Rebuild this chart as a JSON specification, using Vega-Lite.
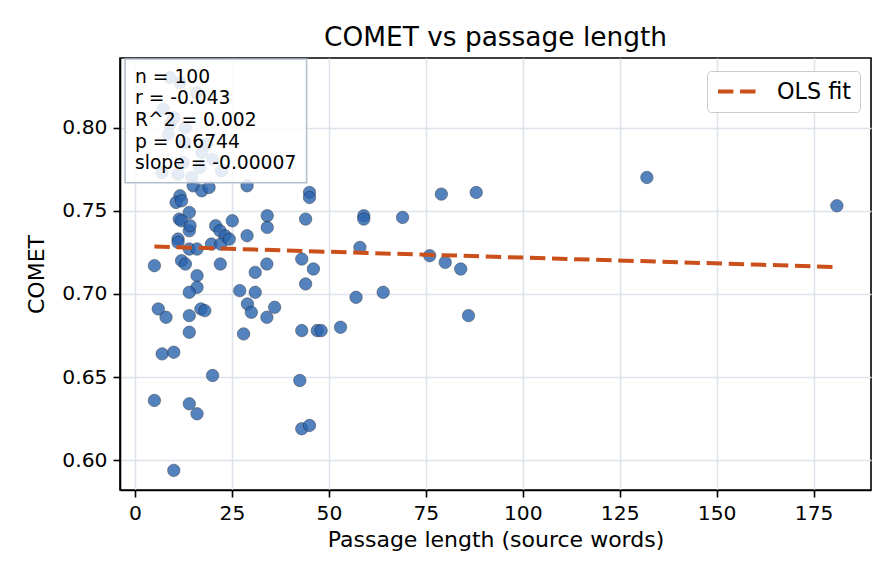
{
  "$schema": "https://vega.github.io/schema/vega-lite/v6.json",
  "width": 751,
  "height": 432,
  "autosize": {"type": "none"},
  "padding": {"left": 120, "top": 58, "right": 25, "bottom": 94},
  "background": "white",
  "title": {"text": "COMET vs passage length", "fontSize": 26.4, "font": "DejaVu Sans", "fontWeight": "normal", "color": "black", "anchor": "middle", "offset": 7},
  "config": {
    "font": "DejaVu Sans",
    "view": {"stroke": "black", "strokeWidth": 1.6},
    "axis": {
      "labelFont": "DejaVu Sans", "labelFontSize": 20.3, "labelColor": "black",
      "titleFont": "DejaVu Sans", "titleFontSize": 22, "titleFontWeight": "normal", "titleColor": "black",
      "domainColor": "black", "domainWidth": 1.6,
      "tickColor": "black", "tickWidth": 1.6, "tickSize": 7, "labelPadding": 6,
      "gridColor": "#dce3eb", "gridWidth": 1.5
    }
  },
  "datasets": {
    "points": [
      {"len": 132, "comet": 0.770}, {"len": 181, "comet": 0.753}, {"len": 79, "comet": 0.760}, {"len": 88, "comet": 0.761},
      {"len": 69, "comet": 0.746}, {"len": 76, "comet": 0.723}, {"len": 80, "comet": 0.719}, {"len": 84, "comet": 0.715},
      {"len": 86, "comet": 0.687}, {"len": 45, "comet": 0.761}, {"len": 45, "comet": 0.758}, {"len": 44, "comet": 0.745},
      {"len": 59, "comet": 0.747}, {"len": 59, "comet": 0.745}, {"len": 58, "comet": 0.728}, {"len": 43, "comet": 0.721},
      {"len": 46, "comet": 0.715}, {"len": 44, "comet": 0.706}, {"len": 57, "comet": 0.698}, {"len": 64, "comet": 0.701},
      {"len": 43, "comet": 0.678}, {"len": 47, "comet": 0.678}, {"len": 48, "comet": 0.678}, {"len": 53, "comet": 0.680},
      {"len": 42.5, "comet": 0.648}, {"len": 43, "comet": 0.619}, {"len": 45, "comet": 0.621}, {"len": 5, "comet": 0.717},
      {"len": 12, "comet": 0.720}, {"len": 13, "comet": 0.718}, {"len": 22, "comet": 0.718}, {"len": 16, "comet": 0.711},
      {"len": 16, "comet": 0.704}, {"len": 14, "comet": 0.701}, {"len": 31, "comet": 0.713}, {"len": 34, "comet": 0.718},
      {"len": 27, "comet": 0.702}, {"len": 31, "comet": 0.701}, {"len": 6, "comet": 0.691}, {"len": 8, "comet": 0.686},
      {"len": 14, "comet": 0.687}, {"len": 17, "comet": 0.691}, {"len": 18, "comet": 0.690}, {"len": 29, "comet": 0.694},
      {"len": 30, "comet": 0.689}, {"len": 36, "comet": 0.692}, {"len": 34, "comet": 0.686}, {"len": 14, "comet": 0.677},
      {"len": 28, "comet": 0.676}, {"len": 7, "comet": 0.664}, {"len": 10, "comet": 0.665}, {"len": 20, "comet": 0.651},
      {"len": 5, "comet": 0.636}, {"len": 14, "comet": 0.634}, {"len": 16, "comet": 0.628}, {"len": 10, "comet": 0.594},
      {"len": 11.6, "comet": 0.759}, {"len": 10.6, "comet": 0.755}, {"len": 14, "comet": 0.749}, {"len": 11.4, "comet": 0.745},
      {"len": 12, "comet": 0.744}, {"len": 14, "comet": 0.738}, {"len": 14.2, "comet": 0.741}, {"len": 11.1, "comet": 0.733},
      {"len": 11.1, "comet": 0.731}, {"len": 14, "comet": 0.727}, {"len": 16, "comet": 0.727}, {"len": 20.8, "comet": 0.741},
      {"len": 21.9, "comet": 0.738}, {"len": 23.2, "comet": 0.735}, {"len": 19.7, "comet": 0.730}, {"len": 22.1, "comet": 0.730},
      {"len": 24.3, "comet": 0.733}, {"len": 25.1, "comet": 0.744}, {"len": 28.9, "comet": 0.735}, {"len": 34.1, "comet": 0.747},
      {"len": 34.1, "comet": 0.740}, {"len": 28.9, "comet": 0.765}, {"len": 15, "comet": 0.765}, {"len": 17.2, "comet": 0.762},
      {"len": 19.1, "comet": 0.764}, {"len": 12, "comet": 0.756}, {"len": 9, "comet": 0.830}, {"len": 11.6, "comet": 0.827},
      {"len": 15.9, "comet": 0.821}, {"len": 7.3, "comet": 0.811}, {"len": 9, "comet": 0.802}, {"len": 8.6, "comet": 0.796},
      {"len": 12.9, "comet": 0.791}, {"len": 18.4, "comet": 0.790}, {"len": 17.2, "comet": 0.785}, {"len": 12.4, "comet": 0.779},
      {"len": 16.7, "comet": 0.776}, {"len": 22.3, "comet": 0.774}, {"len": 6.9, "comet": 0.773}, {"len": 11.1, "comet": 0.772},
      {"len": 14.6, "comet": 0.770}, {"len": 10, "comet": 0.806}, {"len": 20, "comet": 0.781}, {"len": 13, "comet": 0.800}
    ],
    "fit": [
      {"len": 5, "comet": 0.7285},
      {"len": 181, "comet": 0.7162}
    ],
    "stats": [
      {"label": "n = 100\nr = -0.043\nR^2 = 0.002\np = 0.6744\nslope = -0.00007"}
    ]
  },
  "layer": [
    {
      "data": {"name": "points"},
      "mark": {"type": "point", "filled": true, "size": 154, "fill": "#2a64ad", "stroke": "#16243a", "strokeWidth": 0.6, "opacity": 0.8},
      "encoding": {
        "x": {"field": "len", "type": "quantitative", "title": "Passage length (source words)",
              "scale": {"domain": [-3.87, 189.8], "nice": false, "zero": false},
              "axis": {"values": [0, 25, 50, 75, 100, 125, 150, 175], "titlePadding": 6}},
        "y": {"field": "comet", "type": "quantitative", "title": "COMET",
              "scale": {"domain": [0.5822, 0.8418], "nice": false, "zero": false},
              "axis": {"values": [0.6, 0.65, 0.7, 0.75, 0.8], "format": ".2f", "titlePadding": 13}}
      }
    },
    {
      "data": {"name": "fit"},
      "mark": {"type": "line", "strokeWidth": 4, "strokeDash": [15.4, 6.7]},
      "encoding": {
        "x": {"field": "len", "type": "quantitative"},
        "y": {"field": "comet", "type": "quantitative"},
        "color": {"datum": "OLS fit", "type": "nominal", "scale": {"range": ["#cb4f1a"]},
                  "legend": {"orient": "none", "legendX": 587, "legendY": 13, "title": null,
                             "symbolType": "M-2,0H2", "symbolSize": 361, "symbolStrokeWidth": 4,
                             "symbolDash": [15.4, 6.7], "symbolStrokeColor": "#cb4f1a", "symbolFillColor": "transparent",
                             "symbolOffset": 9.5,
                             "labelOffset": 28.5, "labelFontSize": 22.3, "labelFont": "DejaVu Sans", "labelColor": "black",
                             "padding": 9, "fillColor": "white", "strokeColor": "#cccccc", "cornerRadius": 4}}
      }
    },
    {
      "data": {"name": "stats"},
      "mark": {"type": "rect", "fill": "white", "fillOpacity": 0.85, "stroke": "#b3bfce", "strokeWidth": 1.6},
      "encoding": {
        "x": {"datum": -2.58, "type": "quantitative"},
        "x2": {"datum": 44.25},
        "y": {"datum": 0.8412, "type": "quantitative"},
        "y2": {"datum": 0.7668}
      }
    },
    {
      "data": {"name": "stats"},
      "mark": {"type": "text", "align": "left", "baseline": "middle", "lineBreak": "\n", "lineHeight": 21.7,
               "fontSize": 18.7, "font": "DejaVu Sans", "color": "black"},
      "encoding": {
        "x": {"datum": 0, "type": "quantitative"},
        "y": {"datum": 0.8306, "type": "quantitative"},
        "text": {"field": "label"}
      }
    }
  ]
}
